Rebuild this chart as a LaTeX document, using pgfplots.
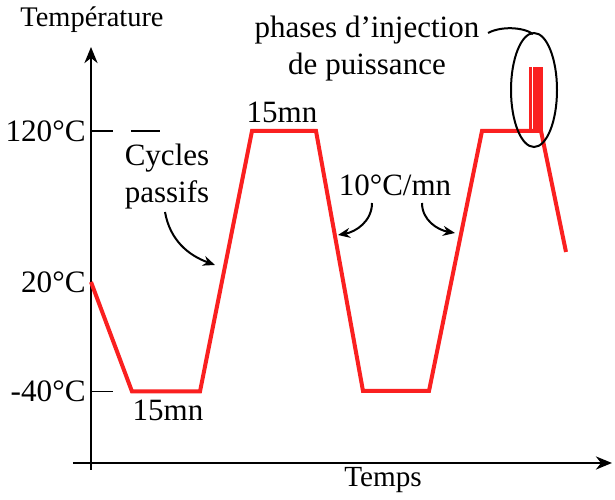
\documentclass[border=0pt]{standalone}
\usepackage{fontspec}
\setmainfont{Liberation Serif}
\usepackage{pgfplots}
\pgfplotsset{compat=1.18}
\usetikzlibrary{arrows.meta}
\definecolor{cyclered}{RGB}{250,32,32}

\begin{document}
\begin{tikzpicture}[font=\fontsize{15.5}{18.5}\selectfont]
\begin{axis}[
    x=0.5pt, y=0.5pt,
    axis lines=middle,
    xmin=-18, xmax=521,
    ymin=-7, ymax=416,
    axis line style={line width=1.4pt, -{Stealth[length=8pt,width=6.5pt,inset=2.5pt]}},
    xtick=\empty,
    ytick={71.5,181,332},
    yticklabels={-40°C,20°C,120°C},
    major tick length=0pt,
    yticklabel style={font=\fontsize{15.6}{17}\selectfont, inner sep=2.5pt},
    clip=false,
]
    % temperature profile (schematic, picture units)
    \addplot[cyclered, line width=2pt] coordinates {
        (0,181) (41,71.5) (109,71.5) (161,332) (225,332)
        (272,72) (338,72) (391,332) (450,332) (475,211)
    };
    % power injection pulses
    \addplot[cyclered, line width=1.6pt, unbounded coords=jump] coordinates {
        (439.5,332) (439.5,396) (nan,nan)
        (443.5,332) (443.5,396) (nan,nan)
        (447,332) (447,396) (nan,nan)
        (450.5,332) (450.5,396)
    };

    % small tick dashes
    \draw[line width=0.7pt] (axis cs:0,332) -- (axis cs:22,332);
    \draw[line width=0.7pt] (axis cs:40,332) -- (axis cs:69,332);
    \draw[line width=0.7pt] (axis cs:0,71.5) -- (axis cs:22,71.5);

    % labels
    \node[font=\fontsize{14.2}{17}\selectfont] at (axis cs:1,443) {Température};
    \node[font=\fontsize{14.6}{17}\selectfont] at (axis cs:292,-17) {Temps};
    \node at (axis cs:77,53) {15mn};
    \node at (axis cs:191,351) {15mn};
    \node[align=center] at (axis cs:76,286) {Cycles\\passifs};
    \node at (axis cs:304,278) {10°C/mn};
    \node[align=center] at (axis cs:276,414) {phases d’injection\\de puissance};

    % annotation arrows
    \draw[line width=1pt, -{Stealth[length=6pt,width=5pt]}]
        (axis cs:74,251) to[out=-80, in=160] (axis cs:124,198);
    \draw[line width=1pt, -{Stealth[length=6pt,width=5pt]}]
        (axis cs:281,260) to[out=-90, in=10] (axis cs:247,228);
    \draw[line width=1pt, -{Stealth[length=6pt,width=5pt]}]
        (axis cs:331,260) to[out=-90, in=170] (axis cs:364,230);
    \draw[line width=1pt] (axis cs:443,373) ellipse [x radius=11.5pt, y radius=28.5pt];
    \draw[line width=1pt] (axis cs:397,430) .. controls (axis cs:410,437) and (axis cs:432,436) .. (axis cs:442,429);

    \coordinate (bl) at (axis cs:-91,-36);
    \coordinate (tr) at (axis cs:524,463);
\end{axis}
\path (bl) rectangle (tr);
\end{tikzpicture}
\end{document}
